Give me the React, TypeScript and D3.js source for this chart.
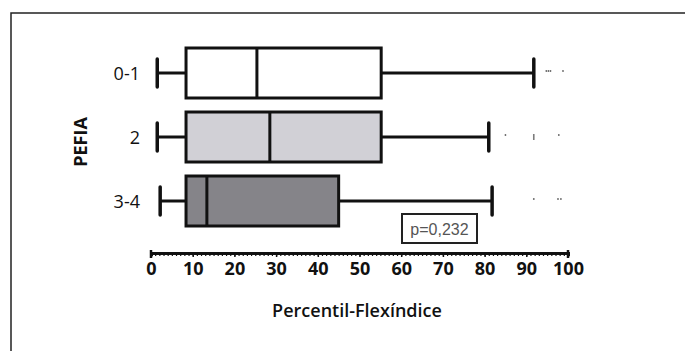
import React, { useEffect, useRef } from "react";
import * as d3 from "d3";

// PEFIA groups, top to bottom
const categories = ["0-1", "2", "3-4"];
const whiskerLow = [1.5, 1.5, 2.2];
const q1 = [8.4, 8.4, 8.4];
const median = [25.4, 28.5, 13.4];
const q3 = [55.2, 55.2, 45];
const whiskerHigh = [91.8, 81, 81.8];
const outliers = [
  [94.8, 95.3, 95.8, 98.8],
  [85, 91.8, 91.8, 91.8, 97.8],
  [91.8, 97.6, 98.3],
];
const fills = ["#ffffff", "#d1d0d6", "#858489"];
const xTicks = [0, 10, 20, 30, 40, 50, 60, 70, 80, 90, 100];
const pLabel = "p=0,232";

const App = () => {
  const ref = useRef<SVGSVGElement>(null);

  useEffect(() => {
    const svg = d3.select(ref.current);
    svg.selectAll("*").remove();

    const x = d3.scaleLinear().domain([0, 100]).range([151, 568]);
    const y = d3.scalePoint().domain(categories).range([73, 201]);
    const boxH = 50;
    const axisY = 253;
    const font = "'Open Sans', sans-serif";

    // frame
    svg.append("path")
      .attr("d", "M11,351 L11,13 L685,13")
      .attr("fill", "none")
      .attr("stroke", "#222")
      .attr("stroke-width", 1.5);

    categories.forEach((c, i) => {
      const cy = y(c) as number;
      const g = svg.append("g");
      // whiskers
      g.append("line")
        .attr("x1", x(whiskerLow[i])).attr("x2", x(q1[i]))
        .attr("y1", cy).attr("y2", cy)
        .attr("stroke", "#111").attr("stroke-width", 3);
      g.append("line")
        .attr("x1", x(q3[i])).attr("x2", x(whiskerHigh[i]))
        .attr("y1", cy).attr("y2", cy)
        .attr("stroke", "#111").attr("stroke-width", 3);
      [whiskerLow[i], whiskerHigh[i]].forEach((v) => {
        g.append("line")
          .attr("x1", x(v)).attr("x2", x(v))
          .attr("y1", cy - 14).attr("y2", cy + 14)
          .attr("stroke", "#111").attr("stroke-width", 3.5)
          .attr("stroke-linecap", "round");
      });
      // box
      g.append("rect")
        .attr("x", x(q1[i])).attr("y", cy - boxH / 2)
        .attr("width", x(q3[i]) - x(q1[i])).attr("height", boxH)
        .attr("fill", fills[i])
        .attr("stroke", "#111").attr("stroke-width", 3);
      g.append("line")
        .attr("x1", x(median[i])).attr("x2", x(median[i]))
        .attr("y1", cy - boxH / 2).attr("y2", cy + boxH / 2)
        .attr("stroke", "#111").attr("stroke-width", 3);
      // outliers, repeated values stacked
      const seen: Record<string, number> = {};
      outliers[i].forEach((v) => {
        const k = String(v);
        const n = seen[k] || 0;
        seen[k] = n + 1;
        g.append("circle")
          .attr("cx", x(v)).attr("cy", cy - 2 + n * 2)
          .attr("r", 0.9)
          .attr("fill", "#666");
      });
      // category label
      svg.append("text")
        .attr("x", 140).attr("y", cy + 6.5)
        .attr("text-anchor", "end")
        .attr("font-family", font)
        .attr("font-size", 18)
        .attr("fill", "#111")
        .text(c);
    });

    // x axis: minor ticks every unit, major every 10
    const minor = d3.axisBottom(x)
      .tickValues(d3.range(0, 101, 1))
      .tickSize(3)
      .tickFormat(() => "");
    const ga = svg.append("g").attr("transform", `translate(0,${axisY})`).call(minor);
    ga.select(".domain").attr("stroke", "#111").attr("stroke-width", 3);
    ga.selectAll(".tick line").attr("stroke", "#111").attr("stroke-width", 1.2);

    const major = d3.axisBottom(x)
      .tickValues(xTicks)
      .tickSize(4)
      .tickPadding(5)
      .tickFormat((d) => String(d));
    const gm = svg.append("g").attr("transform", `translate(0,${axisY})`).call(major);
    gm.select(".domain").remove();
    gm.selectAll(".tick line").attr("stroke", "#111").attr("stroke-width", 1.5);
    gm.selectAll(".tick text")
      .attr("font-family", font)
      .attr("font-size", 18)
      .attr("font-weight", 700)
      .attr("fill", "#111");

    // end caps of the axis
    [0, 100].forEach((v) => {
      svg.append("line")
        .attr("x1", x(v)).attr("x2", x(v))
        .attr("y1", axisY - 3).attr("y2", axisY + 5)
        .attr("stroke", "#111").attr("stroke-width", 2.5);
    });

    // axis titles
    svg.append("text")
      .attr("x", 357).attr("y", 317)
      .attr("text-anchor", "middle")
      .attr("font-family", font)
      .attr("font-size", 18)
      .attr("font-weight", 600)
      .attr("fill", "#111")
      .text("Percentil-Flexíndice");
    svg.append("text")
      .attr("transform", "translate(87,142) rotate(-90)")
      .attr("text-anchor", "middle")
      .attr("font-family", font)
      .attr("font-size", 18)
      .attr("font-weight", 700)
      .attr("fill", "#111")
      .text("PEFIA");

    // p-value box
    svg.append("rect")
      .attr("x", 402).attr("y", 214)
      .attr("width", 75).attr("height", 29)
      .attr("fill", "#fff")
      .attr("stroke", "#222").attr("stroke-width", 2);
    svg.append("text")
      .attr("x", 439.5).attr("y", 234.5)
      .attr("text-anchor", "middle")
      .attr("font-family", "'Liberation Sans', Arial, sans-serif")
      .attr("font-size", 16)
      .attr("fill", "#555")
      .text(pLabel);
  }, []);

  return (
    <svg
      ref={ref}
      width={685}
      height={351}
      style={{ position: "absolute", left: 0, top: 0, background: "#fff" }}
    />
  );
};

export default App;
